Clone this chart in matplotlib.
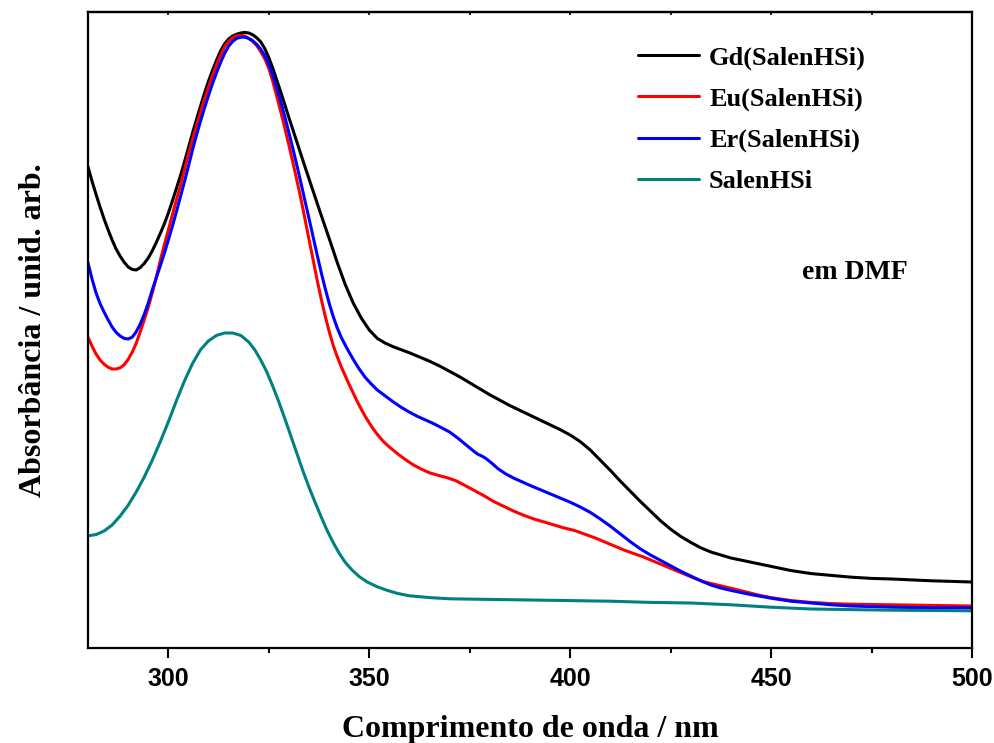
import numpy as np
import matplotlib
matplotlib.use("Agg")
import matplotlib.pyplot as plt
from matplotlib.ticker import MultipleLocator

# absorbance spectra (arb. units)
gd_x = [280, 281, 282, 283, 284, 285, 286, 287, 288, 289, 290, 291, 292, 293, 294, 295, 296, 297,
        298, 299, 300, 301, 302, 303, 304, 305, 306, 307, 308, 309, 310, 311, 312, 313, 314, 315, 316,
        317, 318, 319, 320, 321, 322, 323, 324, 325, 326, 327, 328, 329, 330, 332, 334, 336, 338, 340,
        342, 344, 346, 348, 350, 352, 354, 356, 358, 360, 362.5, 365, 367.5, 370, 372.5, 375, 377.5,
        380, 382.5, 385, 387.5, 390, 392.5, 395, 397.5, 400, 402.5, 405, 407.5, 410, 412.5, 415, 417.5,
        420, 422.5, 425, 427.5, 430, 432.5, 435, 437.5, 440, 445, 450, 455, 460, 465, 470, 475, 480,
        490, 500]
gd_y = [0.802, 0.778, 0.756, 0.735, 0.715, 0.697, 0.680, 0.665, 0.653, 0.643, 0.635, 0.631, 0.630, 0.634,
        0.641, 0.650, 0.662, 0.676, 0.691, 0.707, 0.725, 0.745, 0.766, 0.787, 0.810, 0.834, 0.858, 0.881,
        0.903, 0.925, 0.945, 0.963, 0.980, 0.995, 1.007, 1.015, 1.020, 1.023, 1.025, 1.026, 1.025, 1.022,
        1.017, 1.010, 0.999, 0.984, 0.966, 0.946, 0.926, 0.905, 0.884, 0.843, 0.802, 0.762, 0.722, 0.683,
        0.643, 0.606, 0.575, 0.550, 0.530, 0.516, 0.508, 0.502, 0.497, 0.492, 0.485, 0.478, 0.470, 0.461,
        0.452, 0.442, 0.432, 0.422, 0.413, 0.404, 0.396, 0.388, 0.380, 0.372, 0.364, 0.355, 0.344, 0.330,
        0.313, 0.296, 0.278, 0.261, 0.244, 0.228, 0.212, 0.198, 0.186, 0.176, 0.167, 0.160, 0.155, 0.150,
        0.143, 0.136, 0.129, 0.124, 0.121, 0.118, 0.116, 0.115, 0.112, 0.110]

eu_x = [280, 281, 282, 283, 284, 285, 286, 287, 288, 289, 290, 291, 292, 293, 294, 295, 296, 297, 298,
        299, 300, 301, 302, 303, 304, 305, 306, 307, 308, 309, 310, 311, 312, 313, 314, 315, 316, 317,
        318, 319, 320, 321, 322, 323, 324, 325, 326, 327, 328, 329, 330, 331, 332, 333, 334, 335, 336,
        337, 338, 339, 340, 341, 342, 343, 344, 345, 346, 347, 348, 349, 350, 351, 352, 353, 354, 355,
        357, 359, 361, 363, 365, 367, 369.3, 371.5, 373.5, 376, 378.5, 381, 383.5, 386, 388.5, 391,
        393.5, 396, 398.5, 401, 403.5, 406, 408.5, 411, 413.5, 416, 418.5, 421, 423.5, 426, 428.5, 431,
        433.5, 436, 438.5, 441, 444, 447, 450, 455, 460, 465, 470, 480, 490, 500]
eu_y = [0.518, 0.503, 0.490, 0.480, 0.473, 0.468, 0.465, 0.465, 0.467, 0.472, 0.481, 0.493, 0.508, 0.527,
        0.547, 0.568, 0.592, 0.618, 0.646, 0.672, 0.697, 0.722, 0.747, 0.771, 0.797, 0.823, 0.847, 0.870,
        0.893, 0.915, 0.935, 0.954, 0.972, 0.988, 1.002, 1.011, 1.017, 1.020, 1.021, 1.020, 1.016, 1.011,
        1.004, 0.994, 0.982, 0.966, 0.944, 0.919, 0.893, 0.866, 0.838, 0.809, 0.779, 0.748, 0.715, 0.681,
        0.648, 0.614, 0.583, 0.554, 0.528, 0.505, 0.486, 0.469, 0.454, 0.439, 0.425, 0.411, 0.398, 0.386,
        0.375, 0.365, 0.356, 0.348, 0.341, 0.335, 0.324, 0.314, 0.305, 0.298, 0.292, 0.288, 0.284, 0.279,
        0.272, 0.263, 0.254, 0.244, 0.236, 0.228, 0.221, 0.215, 0.210, 0.205, 0.200, 0.196, 0.190, 0.184,
        0.177, 0.170, 0.163, 0.157, 0.151, 0.144, 0.137, 0.130, 0.123, 0.116, 0.110, 0.106, 0.102, 0.098,
        0.093, 0.088, 0.084, 0.079, 0.076, 0.074, 0.073, 0.072, 0.071, 0.070]

er_x = [280, 281, 282, 283, 284, 285, 286, 287, 288, 289, 290, 291, 292, 293, 294, 295, 296, 297, 298,
        299, 300, 301, 302, 303, 304, 305, 306, 307, 308, 309, 310, 311, 312, 313, 314, 315, 316, 317,
        318, 319, 320, 321, 322, 323, 324, 325, 326, 327, 328, 329, 330, 331, 332, 333, 334, 335, 336,
        337, 338, 339, 340, 341, 342, 343, 344.4, 346, 347.5, 349, 350.5, 352, 354, 356, 358, 360, 362,
        364, 366, 368, 370, 372, 374, 376, 377, 378, 379, 380.5, 382, 384, 386, 388, 390, 392.5, 395,
        397.5, 400, 402.5, 405, 407.5, 410, 412.5, 415, 417.5, 420, 422.5, 425, 427.5, 430, 432.5, 435,
        437.5, 440, 445, 450, 455, 460, 465, 470, 480, 490, 500]
er_y = [0.642, 0.615, 0.592, 0.574, 0.560, 0.547, 0.535, 0.526, 0.520, 0.516, 0.515, 0.518, 0.527, 0.540,
        0.556, 0.575, 0.597, 0.617, 0.637, 0.658, 0.680, 0.703, 0.727, 0.752, 0.777, 0.803, 0.830, 0.855,
        0.878, 0.900, 0.921, 0.941, 0.959, 0.976, 0.991, 1.003, 1.011, 1.016, 1.018, 1.018, 1.016, 1.012,
        1.006, 0.998, 0.987, 0.973, 0.954, 0.933, 0.910, 0.885, 0.859, 0.832, 0.804, 0.775, 0.745, 0.716,
        0.686, 0.656, 0.627, 0.600, 0.575, 0.553, 0.534, 0.518, 0.500, 0.481, 0.465, 0.451, 0.440, 0.430,
        0.420, 0.410, 0.401, 0.393, 0.386, 0.380, 0.374, 0.367, 0.360, 0.350, 0.339, 0.328, 0.323, 0.320,
        0.316, 0.308, 0.299, 0.290, 0.283, 0.277, 0.271, 0.264, 0.257, 0.250, 0.243, 0.235, 0.226, 0.215,
        0.203, 0.190, 0.177, 0.165, 0.155, 0.146, 0.137, 0.128, 0.120, 0.112, 0.105, 0.100, 0.096, 0.089,
        0.083, 0.078, 0.075, 0.072, 0.070, 0.068, 0.067, 0.067]

sal_x = [280, 282, 284, 286, 288, 290, 292, 294, 296, 298, 300, 302, 304, 306, 308, 310, 312, 314, 316,
         318, 320, 321.5, 323, 324.5, 326, 327.5, 329, 330.5, 332, 333.5, 335, 336.5, 338, 339.5, 341,
         342.5, 344, 345.7, 347.5, 349.5, 352, 354.5, 357, 360, 365, 370, 380, 390, 400, 410, 420, 430,
         440, 450, 460, 470, 480, 500]
sal_y = [0.187, 0.189, 0.195, 0.205, 0.220, 0.238, 0.260, 0.285, 0.313, 0.344, 0.377, 0.412, 0.445, 0.474,
         0.497, 0.512, 0.521, 0.525, 0.525, 0.521, 0.510, 0.497, 0.480, 0.460, 0.436, 0.410, 0.382, 0.353,
         0.324, 0.295, 0.268, 0.243, 0.219, 0.196, 0.176, 0.158, 0.143, 0.130, 0.119, 0.110, 0.102, 0.096,
         0.091, 0.087, 0.084, 0.082, 0.081, 0.080, 0.079, 0.078, 0.076, 0.075, 0.072, 0.068, 0.065, 0.064,
         0.063, 0.062]

labels = ["Gd(SalenHSi)", "Eu(SalenHSi)", "Er(SalenHSi)", "SalenHSi"]

serif = "Liberation Serif"
sans = "Liberation Sans"

fig = plt.figure(figsize=(9.95, 7.43), dpi=100)
ax = fig.add_axes([88 / 995, 1 - 648 / 743, 884 / 995, 636 / 743])

lw = 2.2
style = dict(lw=lw, solid_joinstyle="round", solid_capstyle="round")
ax.plot(gd_x, gd_y, color="black", label=labels[0], **style)
ax.plot(eu_x, eu_y, color="#ff0000", label=labels[1], **style)
ax.plot(er_x, er_y, color="#0000ff", label=labels[2], **style)
ax.plot(sal_x, sal_y, color="#008080", label=labels[3], **style)

ax.set_xlim(280, 500)
ax.set_ylim(0, 1.06)
ax.xaxis.set_major_locator(MultipleLocator(50))
ax.xaxis.set_minor_locator(MultipleLocator(25))
ax.set_yticks([])
ax.tick_params(axis="x", which="major", direction="out", length=7, width=1.5, pad=7)
ax.tick_params(axis="x", which="minor", direction="out", length=3.5, width=1.5)
for spine in ax.spines.values():
    spine.set_linewidth(1.6)
for lab in ax.get_xticklabels():
    lab.set_fontfamily(sans)
    lab.set_fontweight("bold")
    lab.set_fontsize(18)

# small inward ticks on the top edge
top = ax.secondary_xaxis("top")
top.xaxis.set_major_locator(MultipleLocator(50))
top.xaxis.set_minor_locator(MultipleLocator(25))
top.tick_params(which="both", direction="in", length=2.5, width=1.2, labeltop=False)
top.spines["top"].set_linewidth(1.6)

ax.set_xlabel("Comprimento de onda / nm", fontfamily=serif, fontweight="bold", fontsize=23, labelpad=17)
ax.set_ylabel("Absorbância / unid. arb.", fontfamily=serif, fontweight="bold", fontsize=23)
ax.yaxis.set_label_coords(-0.045, 0.5)

ax.legend(loc="upper left", bbox_to_anchor=(0.622, 0.947), frameon=False, borderpad=0, borderaxespad=0,
          handlelength=2.3, handletextpad=0.4, labelspacing=0.66,
          prop={"family": serif, "weight": "bold", "size": 19})

ax.text(0.868, 0.591, "em DMF", transform=ax.transAxes, ha="center", va="center",
        fontfamily=serif, fontweight="bold", fontsize=20)

fig.savefig("out.png", dpi=100)
